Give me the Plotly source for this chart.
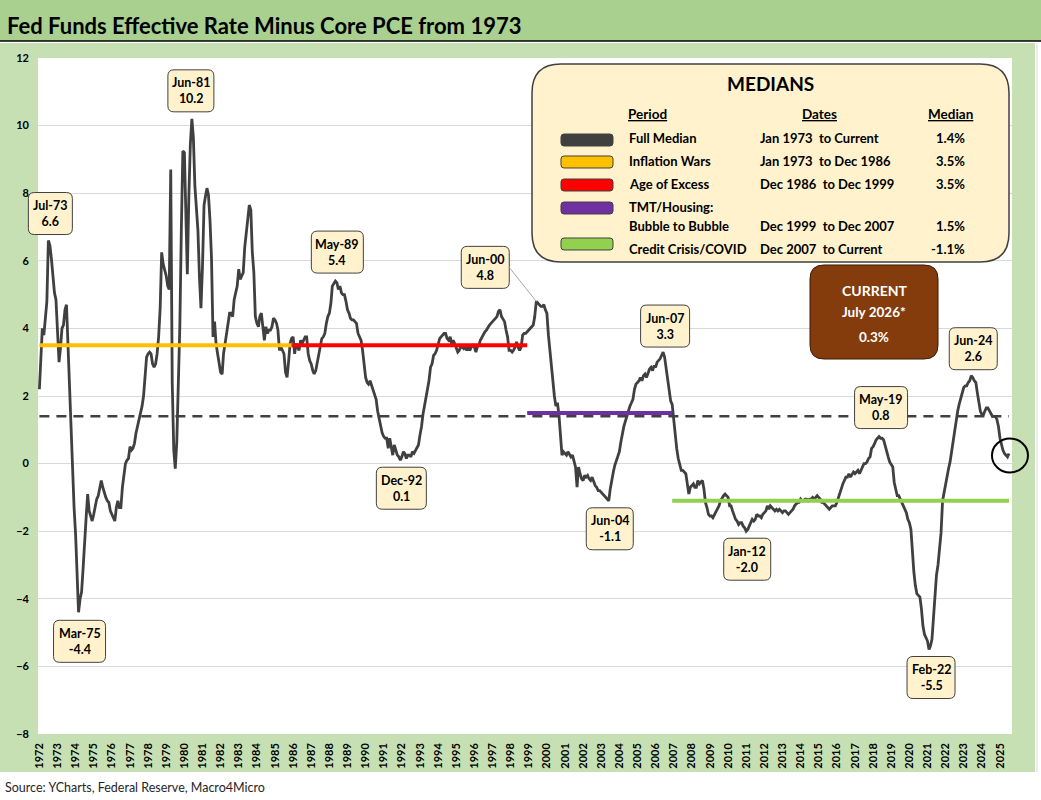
import pandas as pd
import plotly.graph_objects as go

# Fed funds effective rate minus core PCE (y/y), monthly Jan 1973 .. Jul 2026
spread = [
    2.2, 3.4, 4.0, 3.8, 4.3, 4.8, 6.6, 6.45, 6.05, 5.55, 5.05, 4.85,            # 1973
    3.9, 3.0, 3.4, 4.0, 4.1, 4.55, 4.7, 3.5, 2.1, 0.6, -0.5, -1.3,              # 1974
    -2.1, -3.3, -4.4, -4.0, -3.8, -3.1, -2.5, -1.6, -0.9, -1.4, -1.55, -1.7,    # 1975
    -1.5, -1.2, -1.05, -0.95, -0.7, -0.5, -0.7, -0.9, -1.0, -1.1, -1.15, -1.4,  # 1976
    -1.5, -1.6, -1.7, -1.3, -1.1, -1.3, -1.3, -0.7, -0.3, 0.0, 0.1, 0.15,       # 1977
    0.5, 0.4, 0.45, 0.6, 0.9, 1.1, 1.3, 1.5, 1.7, 2.0, 2.75, 3.15,              # 1978
    3.25, 3.3, 3.25, 2.95, 2.85, 2.95, 3.25, 3.75, 4.6, 6.25, 5.9, 5.75,        # 1979
    5.55, 5.25, 5.15, 8.7, 2.4, 0.4, -0.15, 0.65, 2.45, 4.05, 6.95, 9.25,       # 1980
    9.2, 7.0, 5.6, 7.9, 9.45, 10.2, 9.65, 8.2, 7.35, 6.9, 5.5, 4.6,             # 1981
    5.85, 7.65, 7.9, 8.15, 7.95, 7.2, 6.1, 3.75, 4.2, 3.55, 3.25, 3.0,          # 1982
    2.7, 2.65, 3.25, 3.55, 3.85, 4.25, 4.45, 4.45, 4.35, 4.85, 5.05, 5.25,      # 1983
    5.75, 5.45, 5.55, 5.65, 6.4, 6.8, 7.25, 7.65, 7.5, 6.25, 5.65, 4.35,        # 1984
    4.15, 4.05, 4.35, 4.45, 4.05, 3.65, 4.05, 3.85, 3.95, 3.95, 4.05, 4.3,      # 1985
    4.25, 4.15, 3.95, 3.35, 3.45, 3.35, 3.25, 2.7, 2.55, 3.0, 3.55, 3.7,        # 1986
    3.75, 3.25, 3.55, 3.45, 3.35, 3.65, 3.55, 3.65, 3.75, 3.75, 3.25, 3.05,     # 1987
    2.95, 2.75, 2.65, 2.75, 3.0, 3.25, 3.55, 3.7, 3.75, 3.85, 4.15, 4.35,       # 1988
    4.45, 4.75, 5.25, 5.35, 5.4, 5.35, 5.15, 5.25, 5.05, 5.0, 5.0, 4.8,         # 1989
    4.55, 4.45, 4.3, 4.25, 4.25, 4.2, 4.15, 3.85, 3.75, 3.65, 3.35, 2.9,        # 1990
    2.55, 2.4, 2.35, 2.45, 2.3, 2.15, 2.0, 1.9, 1.55, 1.35, 1.05, 0.9,          # 1991
    0.8, 0.75, 0.75, 0.45, 0.75, 0.5, 0.25, 0.55, 0.35, 0.25, 0.2, 0.1,         # 1992
    0.2, 0.35, 0.3, 0.15, 0.25, 0.25, 0.2, 0.35, 0.3, 0.4, 0.45, 0.55,          # 1993
    0.85, 1.1, 1.45, 1.7, 1.9, 2.1, 2.45, 2.85, 2.95, 3.2, 3.25, 3.35,          # 1994
    3.55, 3.7, 3.75, 3.8, 3.85, 3.85, 3.7, 3.65, 3.75, 3.55, 3.65, 3.55,        # 1995
    3.45, 3.3, 3.35, 3.45, 3.45, 3.4, 3.45, 3.35, 3.45, 3.35, 3.45, 3.5,        # 1996
    3.45, 3.3, 3.45, 3.5, 3.65, 3.75, 3.85, 3.9, 3.95, 4.05, 4.1, 4.15,         # 1997
    4.2, 4.25, 4.3, 4.35, 4.5, 4.55, 4.35, 4.25, 4.2, 3.95, 3.75, 3.35,         # 1998
    3.35, 3.3, 3.35, 3.45, 3.6, 3.45, 3.35, 3.45, 3.8, 3.85, 3.85, 3.9,         # 1999
    3.95, 4.0, 4.05, 4.1, 4.35, 4.8, 4.75, 4.7, 4.65, 4.65, 4.7, 4.55,          # 2000
    4.45, 3.8, 3.35, 2.8, 2.45, 2.0, 1.7, 1.8, 1.45, 0.85, 0.25, 0.35,          # 2001
    0.3, 0.25, 0.35, 0.25, 0.2, 0.25, 0.1, -0.1, -0.7, -0.1, -0.3, -0.45,       # 2002
    -0.5, -0.35, -0.4, -0.35, -0.45, -0.5, -0.4, -0.55, -0.65, -0.7, -0.8, -0.8,  # 2003
    -0.85, -0.9, -0.95, -1.0, -1.05, -1.1, -0.75, -0.45, -0.25, -0.05, 0.1, 0.2,  # 2004
    0.35, 0.65, 0.9, 1.1, 1.25, 1.4, 1.6, 1.7, 1.8, 1.9, 2.2, 2.35,             # 2005
    2.4, 2.45, 2.55, 2.45, 2.6, 2.65, 2.55, 2.7, 2.8, 2.85, 2.75, 2.9,          # 2006
    2.85, 3.0, 3.05, 3.1, 3.2, 3.3, 3.15, 2.8, 2.45, 2.2, 1.85, 1.75,           # 2007
    1.3, 0.7, 0.45, 0.15, 0.0, -0.2, -0.2, -0.25, -0.3, -0.6, -0.9, -0.7,       # 2008
    -0.65, -0.6, -0.7, -0.7, -0.5, -0.6, -0.55, -0.5, -0.75, -1.15, -1.3, -1.5,   # 2009
    -1.55, -1.55, -1.6, -1.5, -1.4, -1.35, -1.25, -1.1, -1.0, -0.95, -0.9, -0.95,  # 2010
    -1.0, -1.25, -1.25, -1.4, -1.55, -1.65, -1.7, -1.8, -1.75, -1.75, -1.85, -1.9,  # 2011
    -2.0, -1.95, -1.85, -1.75, -1.65, -1.7, -1.65, -1.5, -1.55, -1.55, -1.6, -1.5,  # 2012
    -1.45, -1.4, -1.25, -1.35, -1.25, -1.3, -1.35, -1.4, -1.35, -1.4, -1.35, -1.4,  # 2013
    -1.45, -1.4, -1.4, -1.45, -1.5, -1.45, -1.4, -1.35, -1.25, -1.2, -1.15, -1.15,  # 2014
    -1.05, -1.1, -1.1, -1.05, -1.05, -1.1, -1.05, -1.05, -1.0, -1.05, -1.0, -0.95,  # 2015
    -1.0, -1.05, -1.15, -1.15, -1.2, -1.25, -1.3, -1.35, -1.3, -1.25, -1.25, -1.25,  # 2016
    -1.15, -1.0, -0.85, -0.7, -0.6, -0.5, -0.4, -0.4, -0.3, -0.4, -0.3, -0.25,    # 2017
    -0.3, -0.25, -0.2, -0.3, -0.2, -0.1, 0.0, 0.0, 0.05, 0.15, 0.2, 0.45,         # 2018
    0.5, 0.6, 0.7, 0.75, 0.8, 0.75, 0.75, 0.7, 0.5, 0.35, 0.2, 0.05,            # 2019
    -0.05, -0.1, -0.55, -0.8, -0.95, -0.95, -1.05, -1.15, -1.25, -1.35, -1.45, -1.65,  # 2020
    -1.75, -1.95, -2.7, -3.2, -3.6, -3.85, -3.9, -3.95, -4.3, -4.8, -5.05, -5.15,  # 2021
    -5.25, -5.5, -5.4, -5.2, -4.5, -3.9, -3.3, -3.0, -2.6, -2.05, -1.1, -0.85,    # 2022
    -0.55, -0.4, -0.15, 0.05, 0.35, 0.65, 1.05, 1.35, 1.55, 1.75, 1.9, 2.1,      # 2023
    2.25, 2.3, 2.3, 2.4, 2.45, 2.6, 2.55, 2.45, 2.4, 2.1, 1.75, 1.55,           # 2024
    1.45, 1.45, 1.55, 1.65, 1.65, 1.55, 1.45, 1.4, 1.4, 1.4, 1.3, 1.1,          # 2025
    0.75, 0.55, 0.4, 0.3, 0.25, 0.2, 0.3,                                      # 2026
]
months = pd.date_range("1973-01-01", periods=len(spread), freq="MS")

year_labels = list(range(1972, 2026))

# median periods
period_names = ["Full Median", "Inflation Wars", "Age of Excess", "TMT/Housing:", "Credit Crisis/COVID"]
period_start = ["1973-01-01", "1973-01-01", "1986-12-01", "1999-12-01", "2007-12-01"]
period_end = ["2026-07-01", "1986-12-01", "1999-12-01", "2007-12-01", "2026-07-01"]
period_dates = ["Jan 1973\u00a0 to Current", "Jan 1973\u00a0 to Dec 1986", "Dec 1986\u00a0 to Dec 1999",
                "Dec 1999\u00a0 to Dec 2007", "Dec 2007\u00a0 to Current"]
period_median = [1.4, 3.5, 3.5, 1.5, -1.1]
period_colors = ["#404040", "#FFC000", "#FF0000", "#7030A0", "#92D050"]

# labelled turning points
callout_dates = ["1973-07-01", "1981-06-01", "1975-03-01", "1989-05-01", "1992-12-01", "2000-06-01",
                 "2004-06-01", "2007-06-01", "2012-01-01", "2019-05-01", "2022-02-01", "2024-06-01"]
callout_values = [6.6, 10.2, -4.4, 5.4, 0.1, 4.8, -1.1, 3.3, -2.0, 0.8, -5.5, 2.6]
# box centre offset from the point (pixels, right / down) and box width
callout_dx = [2, -1, 1, 2, 1, -51, 1, 2, 1, 2, 2, 2]
callout_dy = [-27, -28, 29, -29, 28, -34, 28, -26, 28, -29, 28, -27]
callout_w = [44, 46, 52, 52, 50, 48, 47, 49, 47, 53, 48, 48]

current_label = "July 2026*"
current_value = 0.3

FONT = "Lato"
W_FIG, H_FIG = 1041, 800
L, R, T, B = 38, 29, 58, 66
PW, PH = W_FIG - L - R, H_FIG - T - B
X_RANGE = ["1972-12-04", "2026-08-31"]
Y_RANGE = [-8, 12]


def fx(X):
    return (X - L) / PW


def fy(Y):
    return (H_FIG - B - Y) / PH


def to_px(date, value):
    t0, t1 = pd.Timestamp(X_RANGE[0]), pd.Timestamp(X_RANGE[1])
    X = L + (pd.Timestamp(date) - t0) / (t1 - t0) * PW
    Y = T + (Y_RANGE[1] - value) / (Y_RANGE[1] - Y_RANGE[0]) * PH
    return X, Y


def rounded(x0, y0, x1, y1, r):
    P = lambda X, Y: f"{fx(X):.5f},{fy(Y):.5f}"
    return (f"M{P(x0 + r, y0)} L{P(x1 - r, y0)} Q{P(x1, y0)} {P(x1, y0 + r)} "
            f"L{P(x1, y1 - r)} Q{P(x1, y1)} {P(x1 - r, y1)} L{P(x0 + r, y1)} "
            f"Q{P(x0, y1)} {P(x0, y1 - r)} L{P(x0, y0 + r)} Q{P(x0, y0)} {P(x0 + r, y0)} Z")


def box(x0, y0, x1, y1, r, fill, line="#404040", lw=1):
    return dict(type="path", xref="paper", yref="paper", path=rounded(x0, y0, x1, y1, r),
                fillcolor=fill, line=dict(color=line, width=lw), layer="above")


def rect(x0, y0, x1, y1, fill):
    return dict(type="rect", xref="paper", yref="paper", x0=fx(x0), x1=fx(x1), y0=fy(y0), y1=fy(y1),
                fillcolor=fill, line_width=0, layer="below")


def text(X, Y, s, size=13, color="black", anchor="center", bold=True):
    return dict(xref="paper", yref="paper", x=fx(X), y=fy(Y), text=s, showarrow=False,
                xanchor=anchor, yanchor="middle",
                font=dict(family=FONT, size=size, color=color, weight="bold" if bold else "normal"))


fig = go.Figure()

fig.add_trace(go.Scatter(x=months, y=spread, mode="lines", line=dict(color="#404040", width=2.8),
                         hoverinfo="skip", showlegend=False))

for i in range(len(period_names)):
    dash = "10px,7px" if i == 0 else "solid"
    fig.add_trace(go.Scatter(x=[period_start[i], period_end[i]], y=[period_median[i]] * 2, mode="lines",
                             line=dict(color=period_colors[i], width=2.5 if i == 0 else 4, dash=dash),
                             hoverinfo="skip", showlegend=False))

shapes = [
    # title band, chart frame and the white plot area
    rect(0, 0, 1041, 41, "#A9D08E"),
    rect(0, 43, 1035, 772, "#C6E0B4"),
    rect(L, T, W_FIG - R, H_FIG - B, "white"),
    dict(type="line", xref="paper", yref="paper", x0=fx(0), x1=fx(1041), y0=fy(41), y1=fy(41),
         line=dict(color="black", width=1.5), layer="below"),
    dict(type="line", xref="paper", yref="paper", x0=fx(1037), x1=fx(1037), y0=fy(43), y1=fy(772),
         line=dict(color="#D9D9D9", width=1), layer="below"),
]
annotations = []

# callouts
for i, (d, v) in enumerate(zip(callout_dates, callout_values)):
    X, Y = to_px(d, v)
    cx, cy = X + callout_dx[i], Y + callout_dy[i]
    w = callout_w[i]
    shapes.append(box(cx - w / 2, cy - 21, cx + w / 2, cy + 21, 6, "#FFF2CC"))
    if abs(callout_dx[i]) > 20:
        shapes.append(dict(type="line", xref="paper", yref="paper", x0=fx(X), y0=fy(Y),
                           x1=fx(cx + w / 2), y1=fy(cy), line=dict(color="#A6A6A6", width=1)))
    annotations.append(dict(x=d, y=v, xref="x", yref="y", xshift=callout_dx[i], yshift=-callout_dy[i],
                            text=f"{pd.Timestamp(d):%b-%y}<br>{v:.1f}", showarrow=False,
                            font=dict(family=FONT, size=12.5, color="black", weight="bold")))

# circle on the latest reading
X, Y = to_px(months[-1], spread[-1])
shapes.append(dict(type="circle", xref="paper", yref="paper", x0=fx(X - 17), x1=fx(X + 19),
                   y0=fy(Y - 15), y1=fy(Y + 19), line=dict(color="black", width=2), layer="above"))

# medians table
shapes.append(box(532, 64, 1009, 262, 29, "#FFF2CC", lw=1.5))
annotations.append(text(770, 83, "MEDIANS", size=19))
annotations.append(text(647, 114, "<u>Period</u>", size=13.5))
annotations.append(text(819, 114, "<u>Dates</u>", size=13.5))
annotations.append(text(950, 114, "<u>Median</u>", size=13.5))
row_y = [138, 161, 184, 226, 249]
swatch_y = [140, 162, 185, 208, 244]
for i in range(len(period_names)):
    shapes.append(box(561, swatch_y[i] - 6, 613, swatch_y[i] + 6, 3, period_colors[i]))
    annotations.append(text(627, row_y[i] if i != 3 else 207, period_names[i], anchor="left"))
    annotations.append(text(758, row_y[i], period_dates[i], anchor="left"))
    annotations.append(text(967, row_y[i], f"{period_median[i]:.1f}%", anchor="right"))
annotations.append(text(627, 226, "Bubble to Bubble", anchor="left"))

# current reading box
shapes.append(box(810, 265, 938, 359, 14, "#843C0C", line="#3A1A05"))
annotations.append(text(874, 290, "CURRENT", size=14, color="white"))
annotations.append(text(874, 312, current_label, size=13.5, color="white"))
annotations.append(text(874, 337, f"{current_value:.1f}%", size=13.5, color="white"))

# title and source
annotations.append(text(5, 26, "Fed Funds Effective Rate Minus Core PCE from 1973", size=22, anchor="left"))
annotations.append(text(3, 787, "Source: YCharts, Federal Reserve, Macro4Micro", size=12.5,
                        color="#262626", anchor="left", bold=False))

fig.update_layout(
    width=W_FIG, height=H_FIG,
    margin=dict(l=L, r=R, t=T, b=B, pad=0),
    paper_bgcolor="white", plot_bgcolor="white",
    showlegend=False,
    shapes=shapes, annotations=annotations,
    xaxis=dict(type="date", range=X_RANGE, tickvals=[f"{y}-12-31" for y in year_labels],
               ticktext=[str(y) for y in year_labels], tickangle=-90, showgrid=False, zeroline=False,
               ticks="", ticklabelstandoff=6,
               tickfont=dict(family=FONT, size=11, color="black", weight="bold")),
    yaxis=dict(range=Y_RANGE, tickvals=list(range(-8, 13, 2)), showgrid=True, gridcolor="#D9D9D9",
               gridwidth=1, zeroline=False, ticks="", ticklabelstandoff=8,
               tickfont=dict(family=FONT, size=11, color="black", weight="bold")),
)

# the page has a default body margin; drop it so the figure fills the window exactly
fig.write_html("out.html", config={"displayModeBar": False},
               post_script="document.body.style.margin='0';")
